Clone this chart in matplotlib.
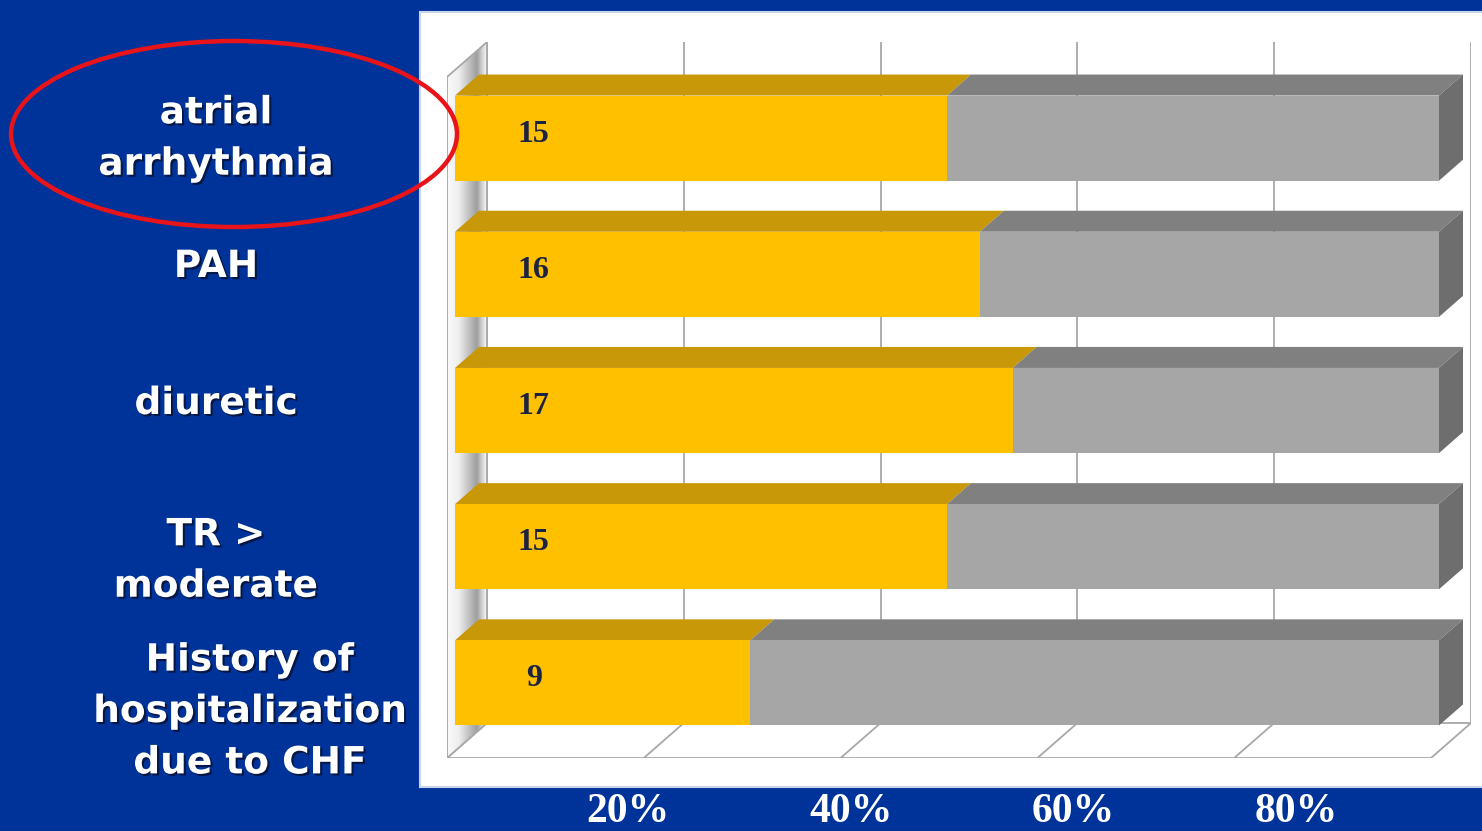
import matplotlib.pyplot as plt
import matplotlib.patheffects as pe
from matplotlib.patches import Polygon, Rectangle, Ellipse
import numpy as np

# --- data ---
categories = ['atrial\narrhythmia', 'PAH', 'diuretic', 'TR >\nmoderate',
              'History of\nhospitalization\ndue to CHF']
n_yes = [15, 16, 17, 15, 9]
n_no = [15, 14, 13, 15, 21]
grid_ticks = [20, 40, 60, 80]
tick_labels = ['20%', '40%', '60%', '80%']

# --- style ---
BLUE_BG = '#003399'
YELLOW_FRONT, YELLOW_TOP = '#FFC000', '#C89808'
GRAY_FRONT, GRAY_TOP, GRAY_SIDE = '#A6A6A6', '#808080', '#6E6E6E'
FRAME = '#A8A8A8'
VALUE_COLOR = '#1C2340'

W, H = 1482, 831
fig = plt.figure(figsize=(W / 100, H / 100), dpi=100, facecolor=BLUE_BG)


def fx(px):
    return px / W


def fy(py):
    return 1 - py / H


# white chart panel
fig.patches.append(Rectangle((fx(420), fy(787)), fx(1490) - fx(420), (787 - 12) / H,
                             transform=fig.transFigure, facecolor='white',
                             edgecolor='#C8D4EC', lw=1.5, zorder=-1))

# pseudo-3D box: x in percent, y in category index, z = depth (0 front, 1 back)
DX = 4.065   # x shift per unit depth (percent)
DY = 0.257   # y shift per unit depth (category units)
Y_TOP, Y_BOT = -0.5, 4.5

ax = fig.add_axes([fx(447), fy(758), 1024 / W, (758 - 42) / H])
ax.set_xlim(0, 100 + DX)
ax.set_ylim(Y_BOT, Y_TOP - DY)
ax.axis('off')


def proj(x, y, z):
    return (x + z * DX, y - z * DY)


def face(pts, **kw):
    p = Polygon([proj(*q) for q in pts], closed=True, **kw)
    ax.add_patch(p)
    return p


# floor
face([(0, Y_BOT, 0), (100, Y_BOT, 0), (100, Y_BOT, 1), (0, Y_BOT, 1)],
     facecolor='white', edgecolor=FRAME, lw=1.3, zorder=1)

# left wall with a silver gradient
wall = face([(0, Y_TOP, 0), (0, Y_TOP, 1), (0, Y_BOT, 1), (0, Y_BOT, 0)],
            facecolor='none', edgecolor=FRAME, lw=1.3, zorder=3)
grad = np.interp(np.linspace(0, 1, 200), [0, 0.3, 0.75, 0.9, 1.0],
                 [0.98, 0.93, 0.62, 0.85, 0.97])
im = ax.imshow(np.tile(grad, (10, 1)), cmap='gray', vmin=0, vmax=1,
               extent=(0, DX, Y_BOT, Y_TOP - DY), aspect='auto', zorder=2)
im.set_clip_path(wall)
ax.set_xlim(0, 100 + DX)
ax.set_ylim(Y_BOT, Y_TOP - DY)

# back wall frame and gridlines
for g in [0] + grid_ticks + [100]:
    x0, y0 = proj(g, Y_TOP, 1)
    x1, y1 = proj(g, Y_BOT, 1)
    ax.plot([x0, x1], [y0, y1], color=FRAME, lw=1.3, zorder=1)
    if 0 < g < 100:
        x2, y2 = proj(g, Y_BOT, 0)
        ax.plot([x1, x2], [y1, y2], color=FRAME, lw=1.3, zorder=1)

# stacked 3D bars
BAR_H = 0.625
Z0, Z1 = 0.2, 0.8
for i, (yes, no) in enumerate(zip(n_yes, n_no)):
    total = yes + no
    p_yes = yes / total * 100
    top, bot = i - BAR_H / 2, i + BAR_H / 2
    segs = [(0, p_yes, YELLOW_FRONT, YELLOW_TOP),
            (p_yes, 100, GRAY_FRONT, GRAY_TOP)]
    for x0, x1, c_front, c_top in segs:
        face([(x0, top, Z0), (x1, top, Z0), (x1, top, Z1), (x0, top, Z1)],
             facecolor=c_top, edgecolor='none', zorder=4)
        face([(x0, top, Z0), (x1, top, Z0), (x1, bot, Z0), (x0, bot, Z0)],
             facecolor=c_front, edgecolor='none', zorder=5)
    face([(100, top, Z0), (100, top, Z1), (100, bot, Z1), (100, bot, Z0)],
         facecolor=GRAY_SIDE, edgecolor='none', zorder=4)
    tx, ty = proj(8.0, i - 0.03, Z0)
    ax.text(tx, ty, str(yes), ha='center', va='center', fontsize=23,
            fontweight='bold', family='Liberation Serif', color=VALUE_COLOR,
            zorder=6)

# percent labels below the panel
tax = fig.add_axes([fx(405.3), fy(793), 1113.3 / W, 0.001])
tax.set_xlim(0, 100)
tax.set_xticks(grid_ticks)
tax.set_xticklabels(tick_labels, fontsize=30, fontweight='bold',
                    family='Liberation Serif', color='white')
tax.tick_params(axis='x', length=0, pad=0)
tax.set_yticks([])
for s in tax.spines.values():
    s.set_visible(False)
tax.patch.set_visible(False)

# category labels on the blue band
label_pos = [(216, 139), (216, 267), (216, 404), (216, 561), (250, 712)]
shadow = [pe.withSimplePatchShadow(offset=(1.5, -1.5), shadow_rgbFace='#0A1030', alpha=0.8)]
for text, (px, py) in zip(categories, label_pos):
    fig.text(fx(px), fy(py), text, ha='center', va='center', fontsize=27,
             fontweight='bold', family='DejaVu Sans', color='white',
             linespacing=1.55, path_effects=shadow)

# highlight ring
fig.patches.append(Ellipse((fx(234), fy(134)), 446 / W, 186 / H,
                           transform=fig.transFigure, facecolor='none',
                           edgecolor='#E8141A', lw=3.2, zorder=10))

fig.savefig('out.png', dpi=100, facecolor=BLUE_BG)
